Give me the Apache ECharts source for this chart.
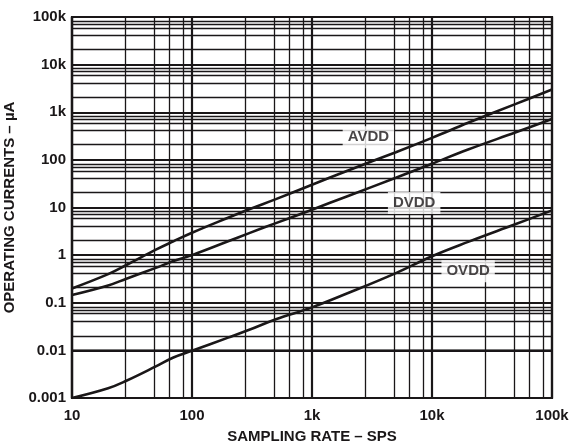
<!DOCTYPE html>
<html>
<head>
<meta charset="utf-8">
<script src="https://cdn.jsdelivr.net/npm/echarts@6/dist/echarts.min.js"></script>
<style>html,body{margin:0;padding:0;background:#fff;}#c{width:571px;height:445px;}</style>
</head>
<body>
<div id="c"></div>
<script>
// Sampling rate (SPS)
var rates = [10, 20, 28.4, 50, 70, 100, 200, 300, 500, 1000, 2000, 5000, 10000, 20000, 50000, 100000];
// Operating currents (uA)
var avdd = [0.2, 0.4, 0.62, 1.3, 1.95, 2.95, 6.1, 9.2, 15, 30, 60, 145, 290, 600, 1500, 3000];
var dvdd = [0.145, 0.23, 0.32, 0.54, 0.75, 1.0, 1.95, 2.9, 4.7, 9, 17.5, 42, 83, 165, 380, 720];
var ovdd = [0.001, 0.0016, 0.0023, 0.0046, 0.0071, 0.0098, 0.0185, 0.027, 0.045, 0.08, 0.16, 0.42, 0.95, 1.9, 4.5, 8.7];

var xTickLabels = {10: '10', 100: '100', 1000: '1k', 10000: '10k', 100000: '100k'};
var yTickLabels = {0.001: '0.001', 0.01: '0.01', 0.1: '0.1', 1: '1', 10: '10', 100: '100', 1000: '1k', 10000: '10k', 100000: '100k'};

// curve labels: name, rate, current
var labelNames = ['AVDD', 'DVDD', 'OVDD'];
var labelRates = [2950, 7100, 20000];
var labelVals = [300, 12.5, 0.46];

// minor grid positions (fractions within each decade, as drawn)
var xMinorFrac = [2.8, 4.85, 6.5, 8.4];
var xDecades = [10, 100, 1000, 10000];
var yMinorFrac = [2.1, 4.1, 5.9, 7.1, 8.2];
var yDecades = [0.001, 0.01, 0.1, 1, 10, 100, 1000, 10000];

var FONT = '"Liberation Sans", Arial, Helvetica, sans-serif';
var INK = '#1a1718';

function pairs(ys) { return rates.map(function (r, i) { return [r, ys[i]]; }); }

var minorLines = [];
xDecades.forEach(function (d) { xMinorFrac.forEach(function (f) { minorLines.push({xAxis: +(d * f).toPrecision(6)}); }); });
yDecades.forEach(function (d) { yMinorFrac.forEach(function (f) { minorLines.push({yAxis: +(d * f).toPrecision(6)}); }); });

var curveStyle = {color: INK, width: 2.6};
function curve(name, ys) {
  return {
    name: name, type: 'line', data: pairs(ys), smooth: 0.4, symbol: 'none',
    lineStyle: curveStyle, itemStyle: {color: INK}, silent: true, z: 5
  };
}

var chart = echarts.init(document.getElementById('c'), null, {renderer: 'canvas'});
chart.setOption({
  animation: false,
  backgroundColor: '#fff',
  grid: {left: 72, right: 19, top: 17, bottom: 47, outerBoundsMode: 'none', containLabel: false,
    show: true, borderColor: INK, borderWidth: 2.2, backgroundColor: 'transparent'},
  xAxis: {
    type: 'log', logBase: 10, min: 10, max: 100000,
    name: 'SAMPLING RATE – SPS', nameLocation: 'middle', nameGap: 31,
    nameTextStyle: {fontFamily: FONT, fontWeight: 'bold', fontSize: 15, color: INK},
    axisLine: {show: true, lineStyle: {color: INK, width: 2.2}},
    axisTick: {show: false},
    axisLabel: {fontFamily: FONT, fontWeight: 'bold', fontSize: 15, color: INK, margin: 10,
      formatter: function (v) { return xTickLabels[Math.round(v)] || ''; }},
    splitLine: {show: true, lineStyle: {color: INK, width: 2.2}}
  },
  yAxis: {
    type: 'log', logBase: 10, min: 0.001, max: 100000,
    name: 'OPERATING CURRENTS – µA', nameLocation: 'middle', nameGap: 53,
    nameTextStyle: {fontFamily: FONT, fontWeight: 'bold', fontSize: 15, color: INK},
    axisLine: {show: true, lineStyle: {color: INK, width: 2.2}},
    axisTick: {show: false},
    axisLabel: {fontFamily: FONT, fontWeight: 'bold', fontSize: 15, color: INK, margin: 6,
      formatter: function (v) {
        var k = Object.keys(yTickLabels).filter(function (t) { return Math.abs(Math.log10(+t) - Math.log10(v)) < 1e-6; })[0];
        return k !== undefined ? yTickLabels[k] : '';
      }},
    splitLine: {show: true, lineStyle: {color: INK, width: 2.2}}
  },
  series: [
    {
      type: 'line', data: [], silent: true, z: 1,
      markLine: {
        silent: true, symbol: ['none', 'none'], animation: false,
        label: {show: false},
        lineStyle: {color: INK, width: 1.3, type: 'solid'},
        emphasis: {disabled: true},
        data: minorLines
      }
    },
    curve('AVDD', avdd),
    curve('DVDD', dvdd),
    curve('OVDD', ovdd),
    {
      type: 'scatter', symbolSize: 0, silent: true, z: 10,
      data: labelNames.map(function (n, i) { return {value: [labelRates[i], labelVals[i]], name: n}; }),
      label: {
        show: true, position: 'inside', formatter: '{b}',
        fontFamily: FONT, fontWeight: 'bold', fontSize: 15, color: INK,
        backgroundColor: '#fff', padding: [4, 5, 3, 5]
      }
    }
  ]
});
</script>
</body>
</html>
